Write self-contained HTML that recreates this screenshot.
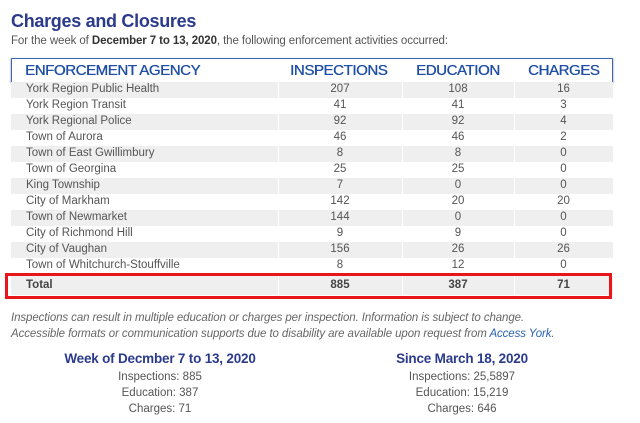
<!DOCTYPE html>
<html><head><style>
body{margin:0;width:640px;height:423px;background:#fff;font-family:"Liberation Sans",sans-serif;position:relative;overflow:hidden}
.a{position:absolute;white-space:nowrap}
.t{left:11px;top:11px;font-size:18px;font-weight:bold;color:#2b3a8c;letter-spacing:-0.3px}
.s{left:11px;top:35px;font-size:11.5px;color:#555;letter-spacing:-0.1px}
.s b{color:#333}
.hd{left:11px;top:58px;width:600px;height:23px;border:1px solid #3b6bb5;box-shadow:0 1px 2px #889;background:#fff}
.hd span{position:absolute;top:3px;font-size:15px;color:#1f4fa6;letter-spacing:-0.4px;text-shadow:0.4px 0 0 #1f4fa6}
.row{position:absolute;left:11px;width:602px;height:16px;font-size:11.5px;color:#555}
.row.g{background:#efefef}
.row span{position:absolute;top:1px}
.c1{left:15px}.c2{left:267px;width:124px;text-align:center}.c3{left:391px;width:112px;text-align:center}.c4{left:503px;width:99px;text-align:center}
.row .d{position:absolute;top:0;width:1px;height:16px;background:#fff}
.n{left:11px;font-size:11.5px;font-style:italic;color:#666;letter-spacing:-0.1px}
.h2{font-size:13.5px;font-weight:bold;color:#2b3a8c;text-align:center;width:240px;letter-spacing:-0.2px}
.l{font-size:11.5px;color:#555;text-align:center;width:240px}
</style></head><body>
<div class="a t">Charges and Closures</div>
<div class="a s">For the week of <b>December 7 to 13, 2020</b>, the following enforcement activities occurred:</div>
<div class="a hd">
<span style="left:13px">ENFORCEMENT AGENCY</span>
<span style="left:278px">INSPECTIONS</span>
<span style="left:404px">EDUCATION</span>
<span style="left:516px">CHARGES</span>
</div>
<div class="row g" style="top:82px"><span class="c1">York Region Public Health</span><span class="c2">207</span><span class="c3">108</span><span class="c4">16</span><i class="d" style="left:267px"></i><i class="d" style="left:391px"></i><i class="d" style="left:503px"></i></div>
<div class="row" style="top:98px"><span class="c1">York Region Transit</span><span class="c2">41</span><span class="c3">41</span><span class="c4">3</span></div>
<div class="row g" style="top:114px"><span class="c1">York Regional Police</span><span class="c2">92</span><span class="c3">92</span><span class="c4">4</span><i class="d" style="left:267px"></i><i class="d" style="left:391px"></i><i class="d" style="left:503px"></i></div>
<div class="row" style="top:130px"><span class="c1">Town of Aurora</span><span class="c2">46</span><span class="c3">46</span><span class="c4">2</span></div>
<div class="row g" style="top:146px"><span class="c1">Town of East Gwillimbury</span><span class="c2">8</span><span class="c3">8</span><span class="c4">0</span><i class="d" style="left:267px"></i><i class="d" style="left:391px"></i><i class="d" style="left:503px"></i></div>
<div class="row" style="top:162px"><span class="c1">Town of Georgina</span><span class="c2">25</span><span class="c3">25</span><span class="c4">0</span></div>
<div class="row g" style="top:178px"><span class="c1">King Township</span><span class="c2">7</span><span class="c3">0</span><span class="c4">0</span><i class="d" style="left:267px"></i><i class="d" style="left:391px"></i><i class="d" style="left:503px"></i></div>
<div class="row" style="top:194px"><span class="c1">City of Markham</span><span class="c2">142</span><span class="c3">20</span><span class="c4">20</span></div>
<div class="row g" style="top:210px"><span class="c1">Town of Newmarket</span><span class="c2">144</span><span class="c3">0</span><span class="c4">0</span><i class="d" style="left:267px"></i><i class="d" style="left:391px"></i><i class="d" style="left:503px"></i></div>
<div class="row" style="top:226px"><span class="c1">City of Richmond Hill</span><span class="c2">9</span><span class="c3">9</span><span class="c4">0</span></div>
<div class="row g" style="top:242px"><span class="c1">City of Vaughan</span><span class="c2">156</span><span class="c3">26</span><span class="c4">26</span><i class="d" style="left:267px"></i><i class="d" style="left:391px"></i><i class="d" style="left:503px"></i></div>
<div class="row" style="top:258px"><span class="c1">Town of Whitchurch-Stouffville</span><span class="c2">8</span><span class="c3">12</span><span class="c4">0</span></div>
<div class="row g" style="top:276px;height:19px;font-weight:bold;color:#444"><span class="c1" style="top:3px">Total</span><span class="c2" style="top:3px">885</span><span class="c3" style="top:3px">387</span><span class="c4" style="top:3px">71</span><i class="d" style="left:267px;height:19px"></i><i class="d" style="left:391px;height:19px"></i><i class="d" style="left:503px;height:19px"></i></div>
<div class="a" style="left:5px;top:273px;width:601px;height:20px;border:3px solid #e8161b"></div>
<div class="a n" style="top:312px">Inspections can result in multiple education or charges per inspection. Information is subject to change.</div>
<div class="a n" style="top:328px">Accessible formats or communication supports due to disability are available upon request from <span style="color:#2a62b0">Access York</span>.</div>
<div class="a h2" style="left:40px;top:351px">Week of Decmber 7 to 13, 2020</div>
<div class="a l" style="left:40px;top:371px">Inspections: 885</div>
<div class="a l" style="left:40px;top:387px">Education: 387</div>
<div class="a l" style="left:40px;top:403px">Charges: 71</div>
<div class="a h2" style="left:342px;top:351px">Since March 18, 2020</div>
<div class="a l" style="left:342px;top:371px">Inspections: 25,5897</div>
<div class="a l" style="left:342px;top:387px">Education: 15,219</div>
<div class="a l" style="left:342px;top:403px">Charges: 646</div>
</body></html>
